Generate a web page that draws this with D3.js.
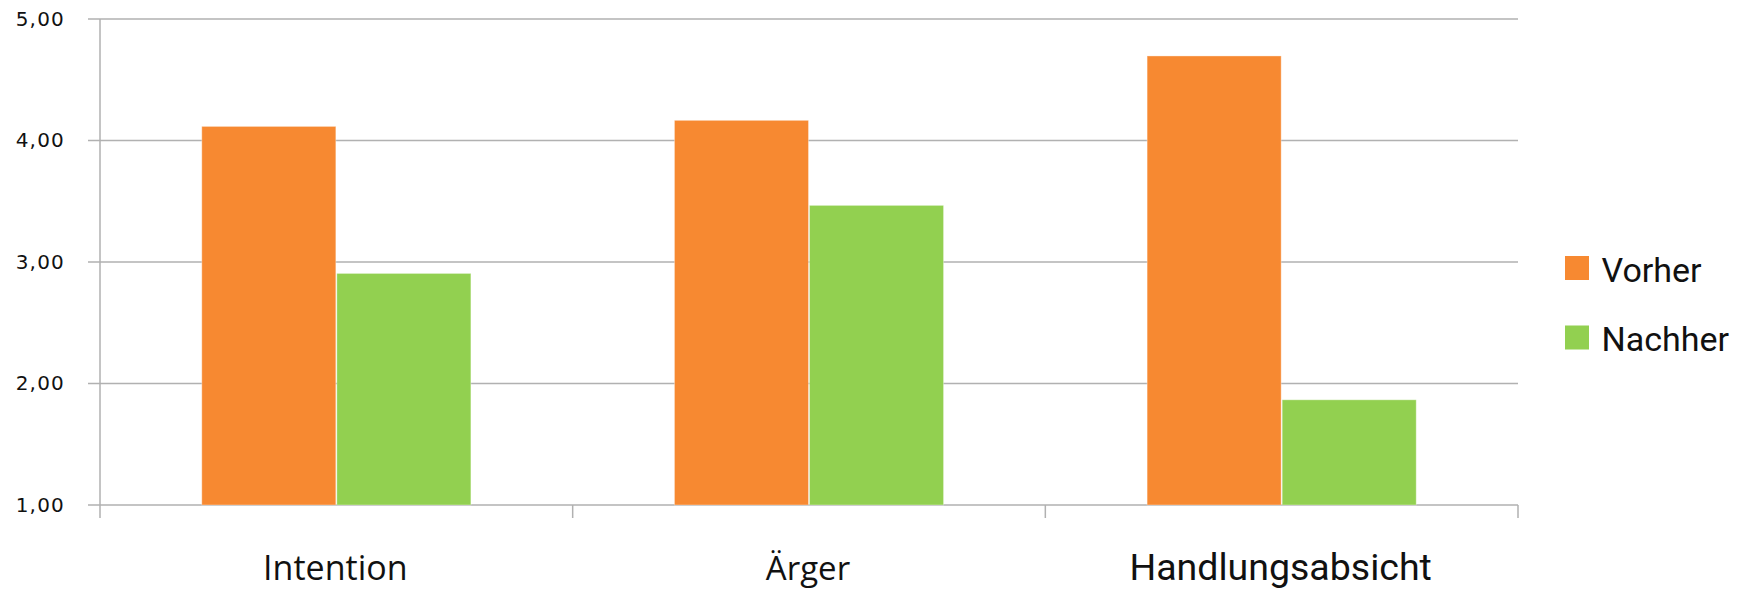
<!DOCTYPE html>
<html>
<head>
<meta charset="utf-8">
<script src="https://cdn.jsdelivr.net/npm/d3@7"></script>
<style>
  html, body { margin: 0; padding: 0; background: #fff; }
  svg { display: block; }
</style>
</head>
<body>
<svg id="chart" width="1737" height="590"></svg>
<script>
// Mittelwerte vor und nach der Intervention
const categories = ["Intention", "Ärger", "Handlungsabsicht"];
const seriesNames = ["Vorher", "Nachher"];
const vorher = [4.12, 4.17, 4.70];
const nachher = [2.91, 3.47, 1.87];
const yTicks = [1, 2, 3, 4, 5];
const colors = ["#f78931", "#92d050"];

const rows = categories.map((c, i) => ({ cat: c, values: [vorher[i], nachher[i]] }));

const svg = d3.select("#chart");
const margin = { left: 100, right: 219, top: 19, bottom: 85 };
const W = 1737, H = 590;

const x = d3.scaleBand().domain(categories).range([margin.left, W - margin.right]).padding(0);
const y = d3.scaleLinear().domain([1, 5]).range([H - margin.bottom, margin.top]);

// bars: two per category, gap = 150% of a bar width
const barW = x.bandwidth() / (2 + 1.5);
const x1 = d3.scaleBand().domain(d3.range(2))
  .range([x.bandwidth() / 2 - barW, x.bandwidth() / 2 + barW]);

const grid = "#b1b1b1";

// horizontal gridlines
svg.append("g")
  .selectAll("line")
  .data(yTicks)
  .join("line")
  .attr("x1", margin.left - 12)
  .attr("x2", W - margin.right)
  .attr("y1", d => y(d))
  .attr("y2", d => y(d))
  .attr("stroke", grid)
  .attr("stroke-width", 1.5);

// y axis
const yAxis = d3.axisLeft(y)
  .tickValues(yTicks)
  .tickSize(0)
  .tickPadding(35)
  .tickFormat(d => d3.format(".2f")(d).replace(".", ","));
const gy = svg.append("g").attr("transform", `translate(${margin.left},0)`).call(yAxis);
gy.select(".domain").remove();
gy.selectAll("text")
  .attr("font-family", "'DejaVu Sans', Verdana, sans-serif")
  .attr("font-size", 20)
  .attr("letter-spacing", 1.2)
  .attr("fill", "#111");
svg.append("line")
  .attr("x1", margin.left).attr("x2", margin.left)
  .attr("y1", y(5)).attr("y2", y(1) + 13)
  .attr("stroke", grid).attr("stroke-width", 1.5);

// x axis boundary ticks
const bounds = categories.map(c => x(c)).concat([x(categories[categories.length - 1]) + x.bandwidth()]);
svg.append("g")
  .selectAll("line")
  .data(bounds.slice(1))
  .join("line")
  .attr("x1", d => d).attr("x2", d => d)
  .attr("y1", y(1)).attr("y2", y(1) + 13)
  .attr("stroke", grid).attr("stroke-width", 1.5);

// bars
svg.append("g")
  .selectAll("g")
  .data(rows)
  .join("g")
  .attr("transform", d => `translate(${x(d.cat)},0)`)
  .selectAll("rect")
  .data(d => d.values.map((v, i) => ({ v, i })))
  .join("rect")
  .attr("x", d => x1(d.i) + 0.5)
  .attr("width", x1.bandwidth() - 1)
  .attr("y", d => y(d.v) + 0.5)
  .attr("height", d => y(1) - y(d.v) - 0.5)
  .attr("fill", d => colors[d.i])
  .attr("stroke", "rgba(255,255,255,0.35)")
  .attr("stroke-width", 1);

// category labels
const labelFonts = ["'Open Sans', sans-serif", "'Open Sans', sans-serif", "Roboto, sans-serif"];
const labelSizes = [34, 33, 37.5];
svg.append("g")
  .selectAll("text")
  .data(categories)
  .join("text")
  .attr("x", d => x(d) + x.bandwidth() / 2 - 1)
  .attr("y", 580)
  .attr("text-anchor", "middle")
  .attr("font-family", (d, i) => labelFonts[i])
  .attr("font-size", (d, i) => labelSizes[i])
  .attr("fill", "#111")
  .text(d => d);

// legend
const legend = svg.append("g")
  .selectAll("g")
  .data(seriesNames)
  .join("g")
  .attr("transform", (d, i) => `translate(1565,${256 + i * 69.5})`);
legend.append("rect")
  .attr("width", 24).attr("height", 24)
  .attr("fill", (d, i) => colors[i]);
legend.append("text")
  .attr("x", 36.5)
  .attr("y", 25.5)
  .attr("font-family", "Roboto, sans-serif")
  .attr("font-size", 34)
  .attr("fill", "#111")
  .text(d => d);
</script>
</body>
</html>
